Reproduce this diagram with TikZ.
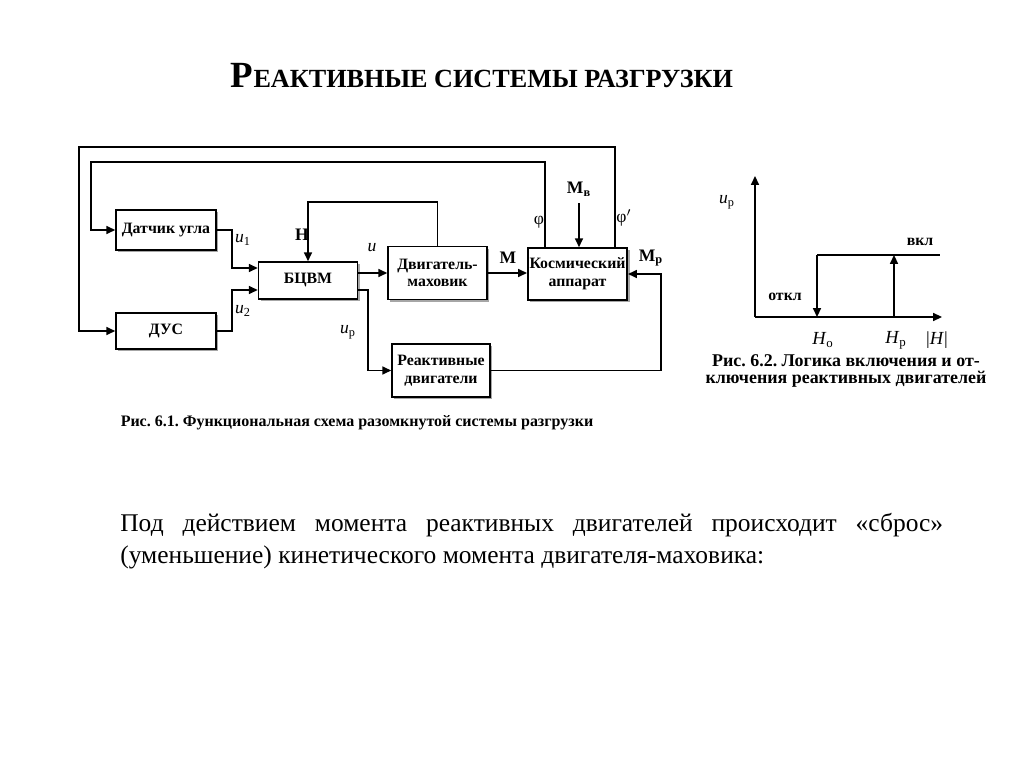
\documentclass[tikz,border=0pt]{standalone}
\usepackage{fontspec}
\setmainfont{Liberation Serif}
\usetikzlibrary{arrows.meta, positioning, calc, shadows}

\tikzset{
  blk/.style={draw, line width=0.9pt, fill=white, align=center,
              font=\fontsize{9}{10}\selectfont\bfseries, inner sep=1pt,
              drop shadow={shadow xshift=1.4pt, shadow yshift=-1.4pt, fill=gray!70, opacity=1}},
  sig/.style={line width=0.9pt, -{Triangle[length=5pt, width=4.5pt]}},
  wire/.style={line width=0.9pt},
  lbl/.style={font=\fontsize{10}{11}\selectfont, inner sep=1pt},
  blbl/.style={font=\fontsize{9}{10}\selectfont\bfseries, inner sep=1pt},
  capt/.style={font=\fontsize{9.1}{10.5}\selectfont\bfseries, align=center, inner sep=0pt}
}

\begin{document}
\frenchspacing
\begin{tikzpicture}[x=0.02cm, y=-0.02cm]
\useasboundingbox (0,0) rectangle (1024,767);

% title
\node[anchor=base, inner sep=0pt, font=\bfseries] (title) at (482,88)
  {{\fontsize{21}{21}\selectfont Р}{\fontsize{14.9}{15}\selectfont ЕАКТИВНЫЕ СИСТЕМЫ РАЗГРУЗКИ}};

% blocks
\node[blk, minimum width=2cm, minimum height=0.8cm] (datchik) at (166,230) {Датчик угла};
\node[blk, minimum width=2cm, minimum height=0.72cm] (dus) at (166,331) {ДУС};
\node[blk, minimum width=1.98cm, minimum height=0.74cm] (bcvm) at (308,280.5) {БЦВМ};
\node[blk, minimum width=1.98cm, minimum height=1.06cm] (dvig) at (437.5,273) {Двигатель-\\маховик};
\node[blk, minimum width=1.98cm, minimum height=1.04cm] (ka) at (577.5,274) {Космический\\аппарат};
\node[blk, minimum width=1.96cm, minimum height=1.06cm] (reakt) at (441,370.5) {Реактивные\\двигатели};

% signals
\draw[sig] (datchik.east) -- ++(15,0) |- ($(bcvm.west)+(0,-12.5)$);
\draw[sig] (dus.east) -- ++(15,0) |- ($(bcvm.west)+(0,9.5)$);
\draw[sig] ($(bcvm.east)+(0,-7.5)$) -- (dvig.west);
\draw[sig] ($(bcvm.east)+(0,9.5)$) -- ++(10,0) |- (reakt.west);
\draw[sig] (dvig.east) -- (dvig.east -| ka.west);
\draw[sig] (reakt.east) -- ++(170,0) |- (ka.east);
\draw[sig] (dvig.north) -- ++(0,-44) -| (bcvm.north);
\draw[sig] ($(ka.north west)+(18,0)$) -- ++(0,-85) -| ($(datchik.west)+(-24,0)$) -- (datchik.west);
\draw[sig] ($(ka.north east)+(-13,0)$) -- ++(0,-100) -| ($(dus.west)+(-36,0)$) -- (dus.west);

\node[blbl, font=\fontsize{10}{11}\selectfont\bfseries] (mv) at (579,189) {M\textsubscript{в}};
\draw[sig] ($(mv.south)+(0,5)$) -- (mv.south |- ka.north);

% labels
\node[lbl] (u1) at (243,240) {\textit{u}\textsubscript{1}};
\node[lbl] (u2) at (243,311) {\textit{u}\textsubscript{2}};
\node[lbl] (u) at (372,248) {\textit{u}};
\node[lbl] (up) at (348,332) {\textit{u}\textsubscript{р}};
\node[blbl, font=\fontsize{10}{11}\selectfont\bfseries] (h) at (302,235) {H};
\node[blbl, font=\fontsize{10}{11}\selectfont\bfseries] (m) at (508,258) {M};
\node[blbl, font=\fontsize{10}{11}\selectfont\bfseries] (mp) at (651,258) {M\textsubscript{р}};
\node[lbl] (phi) at (539,222) {φ};
\node[lbl] (phi2) at (624,218) {φ$'$};

\node[capt] (cap1) at (357,423) {Рис. 6.1. Функциональная схема разомкнутой системы разгрузки};

% switching logic graph
\coordinate (O) at (755,317);
\coordinate (Ho) at (817,317);
\coordinate (Hp) at (894,317);
\draw[sig] (O) -- ++(0,-141);
\draw[sig] (O) -- ++(187,0);
\draw[wire] (Ho |- 0,255) -- (940,255);
\draw[sig] (Ho |- 0,255) -- (Ho);
\draw[sig] (Hp) -- (Hp |- 0,255);

\node[lbl] (upax) at (727,202) {\textit{u}\textsubscript{р}};
\node[blbl] (vkl) at (920,242) {вкл};
\node[blbl] (otkl) at (785,297) {откл};
\node[lbl, font=\fontsize{10.5}{11}\selectfont] (hol) at (823,340) {\textit{H}\textsubscript{о}};
\node[lbl, font=\fontsize{10.5}{11}\selectfont] (hpl) at (896,340) {\textit{H}\textsubscript{р}};
\node[lbl, font=\fontsize{10.5}{11}\selectfont] (habs) at (937,340) {|\textit{H}|};

\node[capt, font=\fontsize{10.2}{9.8}\selectfont\bfseries] (cap2) at (846,371) {Рис. 6.2. Логика включения и от-\\ключения реактивных двигателей};

% body text
\node[anchor=north west, inner sep=0pt, text width=16.46cm, align=justify,
      font=\fontsize{14.5}{18.2}\selectfont] (body) at (120,513)
  {Под действием момента реактивных двигателей происходит «сброс» (уменьшение) кинетического момента двигателя-маховика:};
\end{tikzpicture}
\end{document}
